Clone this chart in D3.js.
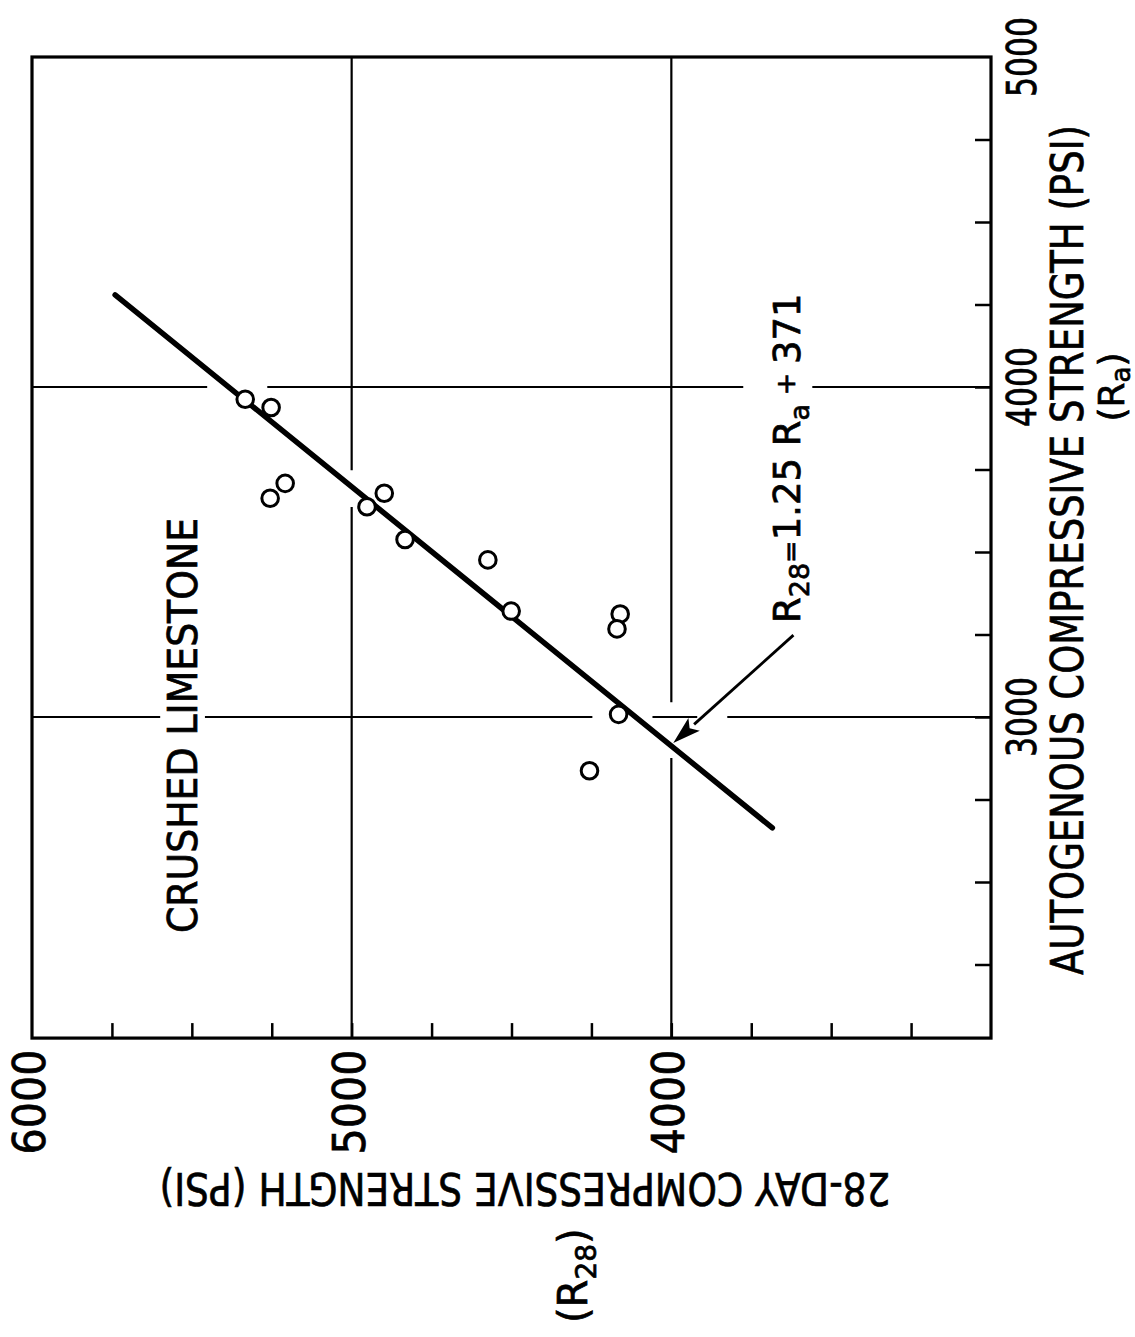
<!DOCTYPE html>
<meta charset="utf-8">
<head>
	<title>Crushed limestone</title>
</head>

<style>
	body { margin: 0; background: #fff; }
	svg text { font-family: "DejaVu Sans", sans-serif; fill: #000; stroke: #000; stroke-width: 0.7px; }
</style>

<body>
	<svg width="1135" height="1337"></svg>

	<script src="https://d3js.org/d3.v7.min.js"></script>
	<script>
// measured points: R28 (28-day) vs Ra (autogenous), psi
var r28 = [5333, 5252, 5208, 5255, 4898, 4952, 4833, 4574, 4501, 4160, 4170, 4165, 4256];
var ra  = [3963, 3938, 3708, 3663, 3678, 3637, 3538, 3476, 3321, 3312, 3267, 3008, 2837];

// ends of the drawn fit line R28 = 1.25 Ra + 371
var fitRa  = [4279, 2664];
var fitR28 = [5740, 3684];

// tick labels and minor ticks
var r28Labels = [6000, 5000, 4000];
var raLabels  = [5000, 4000, 3000];
var r28Minor  = [5750, 5500, 5250, 5000, 4750, 4500, 4250, 4000, 3750, 3500, 3250];
var raMinor   = [4750, 4500, 4250, 4000, 3750, 3500, 3250, 3000, 2750, 2500, 2250];

// grid lines with their broken pieces (data units)
var gridR28 = [
	{v: 5000, pieces: [[5000, 3748], [3636, 2027]]},
	{v: 4000, pieces: [[5000, 3045], [2876, 2027]]}
];
var gridRa = [
	{v: 4000, pieces: [[6000, 5452], [5264, 3775], [3559, 3000]]},
	{v: 3000, pieces: [[6000, 5599], [5459, 4247], [4059, 3919], [3825, 3000]]}
];

// arrow from the equation to the line
var arrowFrom = {r28: 3618, ra: 3248};
var arrowTo   = {r28: 3994, ra: 2921};

var raBottom = 2027;

var svg = d3.select('svg');

var x = d3.scaleLinear().domain([3000, 6000]).range([991, 32]);
var y = d3.scaleLinear().domain([2000, 5000]).range([1047, 57]);

// grid
gridR28.forEach(function(g) {
	g.pieces.forEach(function(p) {
		svg.append('line')
			.attr('x1', x(g.v)).attr('x2', x(g.v))
			.attr('y1', y(p[0])).attr('y2', y(p[1]))
			.attr('stroke', '#000').attr('stroke-width', 2.2);
	});
});
gridRa.forEach(function(g) {
	g.pieces.forEach(function(p) {
		svg.append('line')
			.attr('y1', y(g.v)).attr('y2', y(g.v))
			.attr('x1', x(p[0])).attr('x2', x(p[1]))
			.attr('stroke', '#000').attr('stroke-width', 2.2);
	});
});

// ticks (inward)
var bottomAxis = svg.append('g')
	.attr('transform', 'translate(0,' + y(raBottom) + ')')
	.call(d3.axisTop(x).tickValues(r28Minor).tickSize(15).tickFormat(''));
var rightAxis = svg.append('g')
	.attr('transform', 'translate(' + x(3000) + ',0)')
	.call(d3.axisLeft(y).tickValues(raMinor).tickSize(16).tickFormat(''));
[bottomAxis, rightAxis].forEach(function(a) {
	a.select('.domain').remove();
	a.selectAll('line').attr('stroke', '#000').attr('stroke-width', 2.5);
});

// frame
svg.append('rect')
	.attr('x', x(6000)).attr('y', y(5000))
	.attr('width', x(3000) - x(6000))
	.attr('height', y(raBottom) - y(5000))
	.attr('fill', 'none').attr('stroke', '#000').attr('stroke-width', 3.2);

// fit line
svg.append('line')
	.attr('x1', x(fitR28[0])).attr('y1', y(fitRa[0]))
	.attr('x2', x(fitR28[1])).attr('y2', y(fitRa[1]))
	.attr('stroke', '#000').attr('stroke-width', 5.5)
	.attr('stroke-linecap', 'round');

// points
svg.selectAll('circle.pt')
	.data(r28.map(function(d, i) { return {r28: d, ra: ra[i]}; }))
	.enter().append('circle')
	.attr('class', 'pt')
	.attr('cx', function(d) { return x(d.r28); })
	.attr('cy', function(d) { return y(d.ra); })
	.attr('r', 8.3)
	.attr('fill', '#fff').attr('stroke', '#000').attr('stroke-width', 3);

// arrow
var ax0 = x(arrowFrom.r28), ay0 = y(arrowFrom.ra);
var ax1 = x(arrowTo.r28), ay1 = y(arrowTo.ra);
var len = Math.hypot(ax1 - ax0, ay1 - ay0);
var ux = (ax1 - ax0) / len, uy = (ay1 - ay0) / len;
var headL = 28, headW = 8.5;
var bx = ax1 - ux * headL, by = ay1 - uy * headL;
svg.append('line')
	.attr('x1', ax0).attr('y1', ay0).attr('x2', bx).attr('y2', by)
	.attr('stroke', '#000').attr('stroke-width', 2.8);
svg.append('path')
	.attr('d', 'M' + ax1 + ',' + ay1 +
		'L' + (bx - uy * headW) + ',' + (by + ux * headW) +
		'L' + (bx + ux * 6) + ',' + (by + uy * 6) +
		'L' + (bx + uy * headW) + ',' + (by - ux * headW) + 'Z')
	.attr('fill', '#000');

// texts
svg.append('text')
	.attr('transform', 'translate(197,933) rotate(-90)')
	.attr('font-size', 40)
	.attr('textLength', 415).attr('lengthAdjust', 'spacingAndGlyphs')
	.text('CRUSHED LIMESTONE');

var eq = svg.append('text')
	.attr('transform', 'translate(800,623) rotate(-90)')
	.attr('font-size', 37);
eq.append('tspan').text('R');
eq.append('tspan').attr('font-size', 27).attr('dy', 9).text('28');
eq.append('tspan').attr('font-size', 27).attr('dy', -9).text('=');
eq.append('tspan').text('1.25 R');
eq.append('tspan').attr('font-size', 27).attr('dy', 9).text('a');
eq.append('tspan').attr('font-size', 27).attr('dy', -14).text(' + ');
eq.append('tspan').attr('dy', 5).text('371');

// right tick labels
svg.selectAll('text.ra')
	.data(raLabels).enter().append('text')
	.attr('class', 'ra')
	.attr('transform', function(d) { return 'translate(1036,' + y(d) + ') rotate(-90)'; })
	.attr('text-anchor', 'middle')
	.attr('font-size', 41)
	.attr('textLength', 80).attr('lengthAdjust', 'spacingAndGlyphs')
	.text(function(d) { return d; });

svg.append('text')
	.attr('transform', 'translate(1083,550) rotate(-90)')
	.attr('text-anchor', 'middle')
	.attr('font-size', 45)
	.attr('textLength', 850).attr('lengthAdjust', 'spacingAndGlyphs')
	.text('AUTOGENOUS COMPRESSIVE STRENGTH (PSI)');

var raT = svg.append('text')
	.attr('transform', 'translate(1124,' + y(4000) + ') rotate(-90)')
	.attr('text-anchor', 'middle')
	.attr('font-size', 36);
raT.append('tspan').text('(R');
raT.append('tspan').attr('font-size', 26).attr('dy', 6).text('a');
raT.append('tspan').attr('dy', -6).text(')');

// bottom tick labels
svg.selectAll('text.r28')
	.data(r28Labels).enter().append('text')
	.attr('class', 'r28')
	.attr('transform', function(d) { return 'translate(' + (x(d) + 13) + ',1102) rotate(-90)'; })
	.attr('text-anchor', 'middle')
	.attr('font-size', 44)
	.attr('textLength', 105).attr('lengthAdjust', 'spacingAndGlyphs')
	.text(function(d) { return d; });

svg.append('text')
	.attr('transform', 'translate(525,1173) rotate(180)')
	.attr('text-anchor', 'middle')
	.attr('font-size', 44)
	.attr('textLength', 731).attr('lengthAdjust', 'spacingAndGlyphs')
	.text('28-DAY COMPRESSIVE STRENGTH (PSI)');

var rT = svg.append('text')
	.attr('transform', 'translate(587,1323) rotate(-90)')
	.attr('font-size', 40);
rT.append('tspan').text('(R');
rT.append('tspan').attr('font-size', 28).attr('dy', 9).text('28');
rT.append('tspan').attr('dy', -9).text(')');
	</script>
</body>
</html>
